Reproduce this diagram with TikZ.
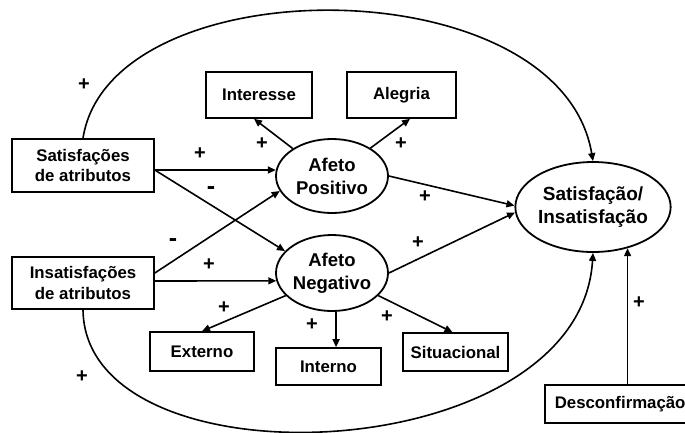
\documentclass[tikz,border=0pt]{standalone}
\usepackage{fontspec}
\setmainfont{Liberation Sans}
\usetikzlibrary{shapes.geometric,arrows.meta}
\begin{document}
\begin{tikzpicture}[x=1pt,y=-1pt,
  line width=1.6pt,
  arr/.style={-{Triangle[length=8pt,width=7pt]}},
  box/.style={draw, rectangle, inner sep=0pt, align=center,
    font=\fontsize{16.8}{20.5}\selectfont\bfseries},
  affect/.style={draw, ellipse, line width=1.8pt, inner sep=0pt, align=center,
    font=\fontsize{18.5}{23}\selectfont\bfseries},
  sign/.style={inner sep=0pt, font=\fontsize{20}{20}\selectfont\bfseries},
  minus/.style={sign, font=\fontsize{25}{25}\selectfont\bfseries},
]
\useasboundingbox (0,0) rectangle (685,432);

% antecedents and outcome
\node[box, minimum width=142pt, minimum height=53pt] (satA) at (83,165.5) {Satisfações\\de atributos};
\node[box, minimum width=142pt, minimum height=52pt] (insA) at (83,283) {Insatisfações\\de atributos};
\node[affect, minimum width=112pt, minimum height=74pt] (apos) at (332,176) {Afeto\\Positivo};
\node[affect, minimum width=112pt, minimum height=76pt] (aneg) at (332,273) {Afeto\\Negativo};
\node[affect, minimum width=140pt, minimum height=90pt,
  font=\fontsize{19}{22.5}\selectfont\bfseries] (sat) at (593,207) {Satisfação/\\Insatisfação};

% emotion boxes
\node[box, minimum width=106pt, minimum height=46pt] (inte) at (259,95) {Interesse};
\node[box, minimum width=109pt, minimum height=46pt] (aleg) at (401.5,95) {Alegria};
\node[box, minimum width=104pt, minimum height=39pt] (ext) at (202,351.5) {Externo};
\node[box, minimum width=105pt, minimum height=37pt] (intn) at (328.5,366.5) {Interno};
\node[box, minimum width=105pt, minimum height=38pt] (sit) at (455.5,352) {Situacional};
\node[box, anchor=west, minimum height=38pt, text width=142pt, align=left,
  inner xsep=10pt] (desc) at (544,404) {Desconfirmação};

% direct paths to satisfaction
\draw[arr] (satA.north) .. controls (110,-35) and (560,-35) .. (sat.north);
\draw[arr] (insA.south) .. controls (85,490) and (580,470) .. (sat.south);
\draw[arr] (desc.north -| sat.-50) -- (sat.-50);

% attributes to affect
\coordinate (sa) at ([yshift=-4.5pt]satA.east);
\draw[arr] (sa) -- (sa -| apos.174);
\draw[arr] (sa) -- (aneg.155);
\draw[arr] ([yshift=10pt]insA.east) -- (apos.196);
\draw[arr] ([yshift=2pt]insA.east) -- (aneg.188);

% affect to emotions and outcome
\draw[arr] (apos.145) -- ([xshift=-5pt]inte.south);
\draw[arr] (apos.36) -- ([xshift=8.5pt]aleg.south);
\draw[arr] (apos.east) -- (sat.179);
\draw[arr] (aneg.east) -- (sat.184);
\draw[arr] (aneg.206) -- (ext.north);
\draw[arr] (aneg.-84) -- (aneg.-84 |- intn.north);
\draw[arr] (aneg.-26) -- ([xshift=-3pt]sit.north);

% signs
\node[sign] (s1) at (84,85) {+};
\node[sign] (s2) at (200,154) {+};
\node[sign] (s3) at (262,144) {+};
\node[minus] (s4) at (211,191) {-};
\node[sign] (s5) at (401,144) {+};
\node[sign] (s6) at (425,197) {+};
\node[minus] (s7) at (173,243) {-};
\node[sign] (s8) at (209,265) {+};
\node[sign] (s9) at (224,308) {+};
\node[sign] (s10) at (312,325) {+};
\node[sign] (s11) at (82,377) {+};
\node[sign] (s12) at (418,243) {+};
\node[sign] (s13) at (387,317) {+};
\node[sign] (s14) at (639,303) {+};
\end{tikzpicture}
\end{document}
